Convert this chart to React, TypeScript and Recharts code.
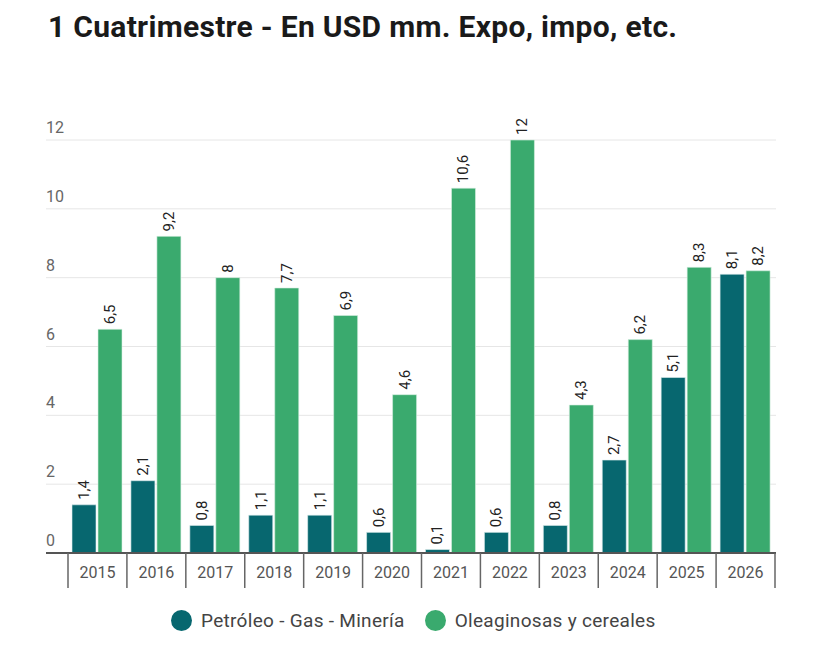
import { Bar, BarChart, CartesianGrid, LabelList, XAxis, YAxis } from "recharts";

const years = ["2015", "2016", "2017", "2018", "2019", "2020", "2021", "2022", "2023", "2024", "2025", "2026"];
const petroleo = [1.4, 2.1, 0.8, 1.1, 1.1, 0.6, 0.1, 0.6, 0.8, 2.7, 5.1, 8.1];
const oleaginosas = [6.5, 9.2, 8, 7.7, 6.9, 4.6, 10.6, 12, 4.3, 6.2, 8.3, 8.2];
const yTicks = [0, 2, 4, 6, 8, 10, 12];

const DARK = "#07676f";
const GREEN = "#3aaa6e";

const data = years.map((year, i) => ({
  year,
  petroleo: petroleo[i],
  oleaginosas: oleaginosas[i],
}));

const fmt = (v: number) => String(v).replace(".", ",");

function ValueLabel(props: any) {
  const { x, y, width, value } = props;
  const cx = x + width / 2;
  const cy = y - 5;
  return (
    <text
      x={cx}
      y={cy}
      transform={`rotate(-90 ${cx} ${cy})`}
      textAnchor="start"
      dominantBaseline="central"
      fontSize={15}
      fill="#222"
      fontFamily="Roboto"
    >
      {fmt(value)}
    </text>
  );
}

function YTick(props: any) {
  const { y, payload } = props;
  return (
    <text x={46} y={y - 7} fontSize={16} fill="#666" fontFamily="Roboto" textAnchor="start">
      {payload.value}
    </text>
  );
}

function XTick(props: any) {
  const { x, y, payload, index } = props;
  const half = payload.offset || 29.45;
  return (
    <g>
      <line x1={x - half} x2={x - half} y1={y - 8} y2={y + 27} stroke="#666" strokeWidth={1.5} />
      {index === years.length - 1 && (
        <line x1={x + half} x2={x + half} y1={y - 8} y2={y + 27} stroke="#666" strokeWidth={1.5} />
      )}
      <text x={x} y={y + 17} textAnchor="middle" fontSize={16} fill="#555" fontFamily="Roboto">
        {payload.value}
      </text>
    </g>
  );
}

export default function App() {
  return (
    <div
      style={{
        position: "absolute",
        left: 0,
        top: 0,
        width: 830,
        height: 646,
        background: "#fff",
        fontFamily: "Roboto",
      }}
    >
      <div
        style={{
          position: "absolute",
          left: 48,
          top: 9,
          fontSize: 30,
          fontWeight: 700,
          color: "#1a1a1a",
          letterSpacing: 0.3,
          whiteSpace: "nowrap",
        }}
      >
        1 Cuatrimestre - En USD mm. Expo, impo, etc.
      </div>
      <BarChart
        width={830}
        height={646}
        data={data}
        margin={{ top: 140, right: 54, bottom: 58, left: 24 }}
        barSize={24}
        barGap={2}
      >
        <CartesianGrid vertical={false} stroke="#e6e6e6" />
        <XAxis
          dataKey="year"
          padding={{ left: 22, right: 1 }}
          height={35}
          axisLine={{ stroke: "#555", strokeWidth: 2 }}
          tickLine={false}
          tick={<XTick />}
          interval={0}
        />
        <YAxis
          width={22}
          domain={[0, 12]}
          ticks={yTicks}
          interval={0}
          axisLine={false}
          tickLine={false}
          tick={<YTick />}
        />
        <Bar dataKey="petroleo" fill={DARK} stroke="#dfeeee" strokeWidth={0.6} isAnimationActive={false}>
          <LabelList dataKey="petroleo" content={<ValueLabel />} />
        </Bar>
        <Bar dataKey="oleaginosas" fill={GREEN} stroke="#d9f0e2" strokeWidth={0.6} isAnimationActive={false}>
          <LabelList dataKey="oleaginosas" content={<ValueLabel />} />
        </Bar>
      </BarChart>
      <div
        style={{
          position: "absolute",
          left: 171,
          top: 609,
          display: "flex",
          alignItems: "center",
          fontSize: 19,
          letterSpacing: 0.3,
          color: "#444",
        }}
      >
        <span style={{ width: 21, height: 21, borderRadius: "50%", background: DARK, marginRight: 9 }} />
        <span style={{ marginRight: 20 }}>Petróleo - Gas - Minería</span>
        <span style={{ width: 21, height: 21, borderRadius: "50%", background: GREEN, marginRight: 9 }} />
        <span>Oleaginosas y cereales</span>
      </div>
    </div>
  );
}
